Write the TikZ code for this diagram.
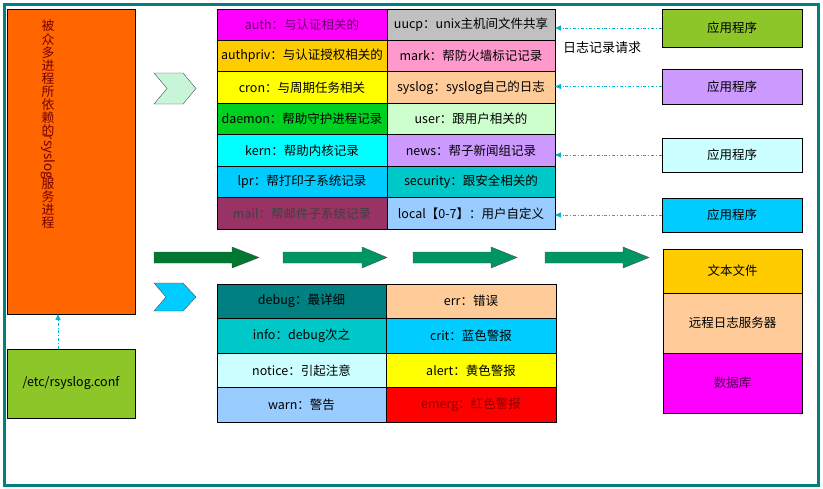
\documentclass[tikz,border=0pt]{standalone}
\usepackage{graphicx}
\usepackage{fontspec}
\setmainfont{Noto Sans CJK SC}
\usetikzlibrary{arrows.meta}

\definecolor{frameteal}{RGB}{0,128,128}
\definecolor{procorange}{RGB}{255,102,0}
\definecolor{limegreen}{RGB}{140,198,40}
\definecolor{reqcyan}{RGB}{0,180,210}
\definecolor{flowdark}{RGB}{0,120,50}
\definecolor{flowgreen}{RGB}{0,150,100}
\definecolor{mint}{RGB}{204,255,204}
\definecolor{chevmint}{RGB}{200,245,215}
\definecolor{skyblue}{RGB}{0,204,255}
\definecolor{paleblue}{RGB}{153,204,255}
\definecolor{palecyan}{RGB}{204,255,255}
\definecolor{peach}{RGB}{255,204,153}
\definecolor{gold}{RGB}{255,204,0}
\definecolor{lilac}{RGB}{204,153,255}
\definecolor{pinkish}{RGB}{255,153,204}
\definecolor{maroon}{RGB}{153,51,102}
\definecolor{seateal}{RGB}{0,200,200}
\definecolor{brightgreen}{RGB}{0,208,32}
\definecolor{fuchsia}{RGB}{255,0,255}
\definecolor{aqua}{RGB}{0,255,255}
\definecolor{lemon}{RGB}{255,255,0}
\definecolor{scarlet}{RGB}{255,0,0}
\definecolor{silvergrey}{RGB}{192,192,192}

\tikzset{
  box/.style={draw=black, line width=0.8pt, inner sep=0pt, outer sep=0pt,
    font=\fontsize{12.5}{14}\selectfont},
  tcell/.style={box, minimum height=31.43pt},
  bcell/.style={box, minimum height=34.5pt},
  appbox/.style={box, minimum width=140pt},
  vtext/.style={align=center, inner sep=0pt, text=red!45!black,
    font=\fontsize{12.8}{13.1}\selectfont},
  reqarrow/.style={reqcyan, line width=0.8pt, dash dot,
    -{Triangle[length=6pt,width=5pt]}},
  flowarrow/.style={draw=black!70, line width=0.4pt}
}

\begin{document}
\begin{tikzpicture}[x=1pt, y=-1pt]
  \useasboundingbox (0,0) rectangle (823,488);
  % Frame.
  \draw[frameteal, line width=3pt] (4.5,4.5) rectangle (818,485);
  % Left: rsyslog process and its config file.
  \node[box, fill=procorange, minimum width=128pt, minimum height=305pt] (proc) at (71,161.5) {};
  \node[vtext, anchor=north] (proctop) at (48,20) {被\\众\\多\\进\\程\\所\\依\\赖\\的};
  \node[vtext, rotate=-90, anchor=west, font=\fontsize{13.5}{14}\selectfont] (procmid) at ([yshift=2pt]proctop.south) {rsyslog};
  \node[vtext, anchor=north] (procbot) at ([yshift=2pt]procmid.east) {服\\务\\进\\程};
  \node[box, fill=limegreen, minimum width=128pt, minimum height=69pt] (conf) at (71,383.5) {/etc/rsyslog.conf};
  \draw[reqarrow] ([xshift=-13pt]conf.north) -- ([xshift=-13pt]proc.south);
  % Chevrons.
  \filldraw[fill=chevmint, flowarrow] (154,73) -- (183,73) -- (196,88.5) -- (183,104) -- (154,104) -- (167,88.5) -- cycle;
  \filldraw[fill=skyblue, flowarrow] (154,283) -- (183,283) -- (196,297) -- (183,311) -- (154,311) -- (166,297) -- cycle;
  % Flow arrows.
  \filldraw[fill=flowdark, flowarrow] (154,252) -- (232,252) -- (232,247) -- (259,257.5) -- (232,268) -- (232,263) -- (154,263) -- cycle;
  \filldraw[fill=flowgreen, flowarrow] (283,252) -- (362,252) -- (362,247) -- (387,257.5) -- (362,268) -- (362,263) -- (283,263) -- cycle;
  \filldraw[fill=flowgreen, flowarrow] (413,252) -- (491,252) -- (491,247) -- (517,257.5) -- (491,268) -- (491,263) -- (413,263) -- cycle;
  \filldraw[fill=flowgreen, flowarrow] (545,252) -- (623,252) -- (623,247) -- (649,257.5) -- (623,268) -- (623,263) -- (545,263) -- cycle;
  % Facilities.
  \node[tcell, minimum width=170pt, fill=fuchsia, text=violet!80!black] (auth) at (302,24.7) {auth：与认证相关的};
  \node[tcell, minimum width=170pt, fill=gold] (authpriv) at (302,56.1) {authpriv：与认证授权相关的};
  \node[tcell, minimum width=170pt, fill=lemon] (cron) at (302,87.6) {cron：与周期任务相关};
  \node[tcell, minimum width=170pt, fill=brightgreen] (daemon) at (302,119.0) {daemon：帮助守护进程记录};
  \node[tcell, minimum width=170pt, fill=aqua] (kern) at (302,150.4) {kern：帮助内核记录};
  \node[tcell, minimum width=170pt, fill=skyblue] (lpr) at (302,181.9) {lpr：帮打印子系统记录};
  \node[tcell, minimum width=170pt, fill=maroon, text=black!75] (mail) at (302,213.3) {mail：帮邮件子系统记录};
  \node[tcell, minimum width=168pt, fill=silvergrey] (uucp) at (471,24.7) {uucp：unix主机间文件共享};
  \node[tcell, minimum width=168pt, fill=pinkish] (mark) at (471,56.1) {mark：帮防火墙标记记录};
  \node[tcell, minimum width=168pt, fill=peach] (syslog) at (471,87.6) {syslog：syslog自己的日志};
  \node[tcell, minimum width=168pt, fill=mint] (user) at (471,119.0) {user：跟用户相关的};
  \node[tcell, minimum width=168pt, fill=lilac] (news) at (471,150.4) {news：帮子新闻组记录};
  \node[tcell, minimum width=168pt, fill=seateal] (security) at (471,181.9) {security：跟安全相关的};
  \node[tcell, minimum width=168pt, fill=paleblue] (local) at (471,213.3) {local【0-7】：用户自定义};
  % Priorities.
  \node[bcell, minimum width=169pt, fill=frameteal] (debug) at (301.5,301.25) {debug：最详细};
  \node[bcell, minimum width=169pt, fill=seateal] (info) at (301.5,335.75) {info：debug次之};
  \node[bcell, minimum width=169pt, fill=palecyan] (notice) at (301.5,370.25) {notice：引起注意};
  \node[bcell, minimum width=169pt, fill=paleblue] (warn) at (301.5,404.75) {warn：警告};
  \node[bcell, minimum width=170pt, fill=peach] (err) at (471,301.25) {err：错误};
  \node[bcell, minimum width=170pt, fill=skyblue] (crit) at (471,335.75) {crit：蓝色警报};
  \node[bcell, minimum width=170pt, fill=lemon] (alert) at (471,370.25) {alert：黄色警报};
  \node[bcell, minimum width=170pt, fill=scarlet, text=red!55!black] (emerg) at (471,404.75) {emerg：红色警报};
  % Right: applications sending requests.
  \node[appbox, fill=limegreen, minimum height=38pt] (app1) at (732,28) {应用程序};
  \node[appbox, fill=lilac, minimum height=35pt] (app2) at (732,86.5) {应用程序};
  \node[appbox, fill=palecyan, minimum height=34pt] (app3) at (732,155) {应用程序};
  \node[appbox, fill=skyblue, minimum height=34pt] (app4) at (732,215) {应用程序};
  \node[anchor=west, inner sep=0pt, font=\fontsize{13}{15}\selectfont] (reqlabel) at (563,48) {日志记录请求};
  \draw[reqarrow] (app1.west) -- (app1.west -| uucp.east);
  \draw[reqarrow] (app2.west) -- (app2.west -| syslog.east);
  \draw[reqarrow] (app3.west) -- (app3.west -| news.east);
  \draw[reqarrow] (app4.west) -- (app4.west -| local.east);
  % Right: outputs.
  \node[appbox, fill=gold, minimum width=139pt, minimum height=44pt] (textfile) at (732.5,271) {文本文件};
  \node[appbox, fill=peach, minimum width=139pt, minimum height=60pt] (remote) at (732.5,323) {远程日志服务器};
  \node[appbox, fill=fuchsia, text=violet!60!black, minimum width=139pt, minimum height=60pt] (db) at (732.5,383) {数据库};
\end{tikzpicture}
\end{document}
